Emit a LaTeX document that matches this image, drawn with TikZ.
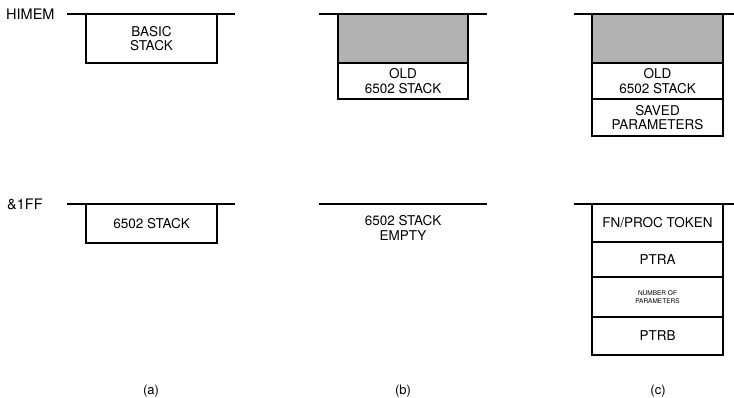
\documentclass[tikz,border=0pt]{standalone}
\usepackage{fontspec}
\setmainfont{TeX Gyre Heros}
\usetikzlibrary{positioning}
\tikzset{
  cell/.style={draw,rectangle,line width=1.3pt,minimum width=131pt,inner sep=0pt,outer sep=0pt,align=center,font=\fontsize{13.5}{14.5}\selectfont},
  usedcell/.style={cell,fill=black!30},
  tinycell/.style={cell,font=\fontsize{6.5}{7.5}\selectfont},
  level/.style={line width=1.3pt},
  addr/.style={anchor=west,inner sep=0pt,font=\fontsize{14.5}{15}\selectfont},
  plain/.style={align=center,font=\fontsize{13.5}{14.5}\selectfont},
  caplbl/.style={font=\fontsize{13}{14}\selectfont}
}
\begin{document}
\begin{tikzpicture}[x=1pt,y=-1pt]
  \useasboundingbox (0,0) rectangle (734,398);
  % address labels
  \node[addr] (himem) at (6,14.5) {HIMEM};
  \node[addr] (low) at (7,204) {\&1FF};

  % (a) before the call
  \node[cell, minimum height=49pt] (basic) at (151.5,38.5) {BASIC\\STACK};
  \node[cell, minimum height=39pt] (hwA) at (151.5,223.5) {6502 STACK};
  \coordinate (aHiL) at (67,14);   \coordinate (aHiR) at (235,14);
  \coordinate (aLoL) at (67,204);  \coordinate (aLoR) at (235,204);
  \draw[level] (aHiL) -- (aHiR);
  \draw[level] (aLoL) -- (aLoR);

  % (b) 6502 stack copied up
  \node[usedcell, minimum width=130pt, minimum height=49pt] (usedB) at (403,38.5) {};
  \node[cell, minimum width=130pt, minimum height=36pt, below=0pt of usedB] (oldB) {OLD\\6502 STACK};
  \node[plain] (emptyB) at (403,228) {6502 STACK\\EMPTY};
  \coordinate (bHiL) at (319,14);  \coordinate (bHiR) at (487,14);
  \coordinate (bLoL) at (319,204); \coordinate (bLoR) at (487,204);
  \draw[level] (bHiL) -- (bHiR);
  \draw[level] (bLoL) -- (bLoR);

  % (c) parameters saved
  \node[usedcell, minimum height=49pt] (usedC) at (657.5,38.5) {};
  \node[cell, minimum height=36pt, below=0pt of usedC] (oldC) {OLD\\6502 STACK};
  \node[cell, minimum height=37pt, below=0pt of oldC] (saved) {SAVED\\PARAMETERS};
  \node[cell, minimum height=38pt] (token) at (657.5,223) {FN/PROC TOKEN};
  \node[cell, minimum height=35pt, below=0pt of token] (ptra) {PTRA};
  \node[tinycell, minimum height=40pt, below=0pt of ptra] (nparm) {NUMBER OF\\PARAMETERS};
  \node[cell, minimum height=38pt, below=0pt of nparm] (ptrb) {PTRB};
  \coordinate (cHiL) at (574,14);  \coordinate (cHiR) at (734,14);
  \coordinate (cLoL) at (574,204); \coordinate (cLoR) at (734,204);
  \draw[level] (cHiL) -- (cHiR);
  \draw[level] (cLoL) -- (cLoR);

  % captions
  \node[caplbl] (capA) at (151,391) {(a)};
  \node[caplbl] (capB) at (403,391) {(b)};
  \node[caplbl] (capC) at (658,391) {(c)};
\end{tikzpicture}
\end{document}
